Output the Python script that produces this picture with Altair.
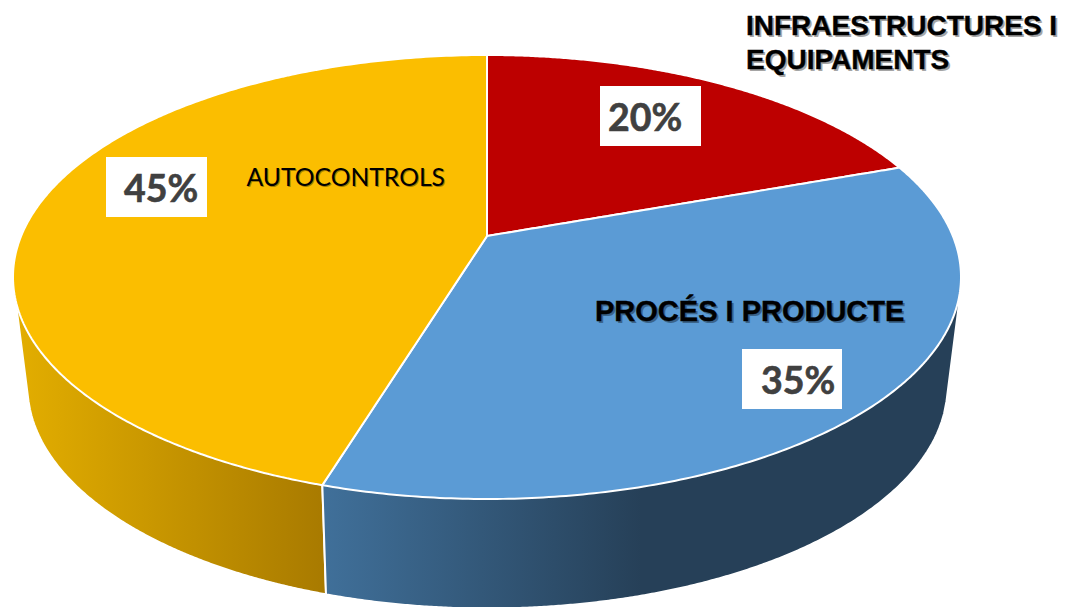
import numpy as np
import pandas as pd
import altair as alt

# values
categories = ["INFRAESTRUCTURES I EQUIPAMENTS", "PROCÉS I PRODUCTE", "AUTOCONTROLS"]
shares = [19.5, 35.2, 45.3]
pct_labels = ["20%", "35%", "45%"]
top_colors = ["#BD0000", "#5B9BD5", "#FBBE00"]

# projected disc: perspective of a tilted pie
HUB_X, HUB_Y = 487.0, 236.0
BACK_Y, FRONT_Y = 55.0, 499.0
C = -(FRONT_Y - HUB_Y - (HUB_Y - BACK_Y)) / (FRONT_Y - BACK_Y)
A = (FRONT_Y - HUB_Y) * (1 + C)
D = 474.0 * np.sqrt(1 - C ** 2)


def disc(theta_deg):
    t = np.radians(theta_deg)
    u, v = np.sin(t), -np.cos(t)
    w = 1 + C * v
    return HUB_X + D * u / w, HUB_Y + A * v / w


def wedge(a0, a1):
    th = np.linspace(a0, a1, 220)
    ax, ay = disc(th)
    px = np.r_[HUB_X, ax, HUB_X]
    py = np.r_[HUB_Y, ay, HUB_Y]
    rows = []
    xs = np.unique(np.round(px, 3))
    for x in xs:
        hits = []
        for i in range(len(px) - 1):
            x0, x1, y0, y1 = px[i], px[i + 1], py[i], py[i + 1]
            lo, hi = min(x0, x1), max(x0, x1)
            if lo - 1e-3 <= x <= hi + 1e-3:
                if abs(x1 - x0) < 1e-9:
                    hits += [y0, y1]
                else:
                    hits.append(y0 + (x - x0) / (x1 - x0) * (y1 - y0))
        rows.append({"x": x, "y": min(hits), "y2": max(hits)})
    return pd.DataFrame(rows)


cum = np.cumsum([0] + shares) / sum(shares) * 360
wedges = [wedge(cum[i], cum[i + 1]) for i in range(3)]

# side wall: rim of the lower disc
LOW_CX, LOW_CY, LOW_RX, LOW_RY = 487.5, 386.5, 460.0, 222.0
SEAM_TOP = disc(cum[2])
SEAM_BOTTOM_X = 326.0


def low_rim(x):
    return LOW_CY + LOW_RY * np.sqrt(np.clip(1 - ((x - LOW_CX) / LOW_RX) ** 2, 0, 1))


seam_low = float(low_rim(SEAM_BOTTOM_X))
UP = 285.0


def seam_y(x):
    return SEAM_TOP[1] + (x - SEAM_TOP[0]) / (SEAM_BOTTOM_X - SEAM_TOP[0]) * (seam_low - SEAM_TOP[1])


left_xs = np.r_[15.0, np.linspace(28.5, SEAM_TOP[0] - 0.05, 200)]
left_low = np.r_[296.0, low_rim(left_xs[1:])]
seam_xs = np.linspace(SEAM_TOP[0], SEAM_BOTTOM_X, 6)
side_yellow = pd.DataFrame({
    "x": np.r_[left_xs, seam_xs],
    "y": np.r_[left_low, low_rim(seam_xs)],
    "y2": np.r_[np.full(len(left_xs), UP), seam_y(seam_xs)],
})
right_xs = np.r_[np.linspace(SEAM_BOTTOM_X + 0.05, 946.5, 260), 960.0]
side_blue = pd.DataFrame({
    "x": np.r_[seam_xs, right_xs],
    "y": np.r_[seam_y(seam_xs), low_rim(right_xs[:-1]), 296.0],
    "y2": UP,
})

X = alt.X("x:Q", axis=None, scale=alt.Scale(domain=[8, 1068], nice=False, zero=False))
Y = alt.Y("y:Q", axis=None, scale=alt.Scale(domain=[607, 8], nice=False, zero=False))


def area(df, fill):
    return alt.Chart(df).mark_area(fill=fill, stroke="white", strokeWidth=2, interpolate="linear").encode(
        x=X, y=Y, y2="y2:Q"
    )


yellow_grad = alt.Gradient(gradient="linear", x1=0, x2=1, y1=0, y2=0, stops=[
    alt.GradientStop(offset=0, color="#E3AE00"),
    alt.GradientStop(offset=1, color="#A87A00"),
])
blue_grad = alt.Gradient(gradient="linear", x1=0, x2=1, y1=0, y2=0, stops=[
    alt.GradientStop(offset=0, color="#40709A"),
    alt.GradientStop(offset=0.5, color="#264058"),
    alt.GradientStop(offset=1, color="#264058"),
])

boxes = pd.DataFrame({
    "x": [600, 742, 106], "x2": [701, 842, 207],
    "y": [146, 409, 217], "y2": [86, 349, 157],
})
rect = alt.Chart(boxes).mark_rect(fill="white").encode(x=X, x2="x2:Q", y=Y, y2="y2:Q")


def text_layer(rows, font, size, weight, color, dx=0, dy=0, opacity=1.0, stroke=0.0):
    return alt.Chart(pd.DataFrame(rows)).mark_text(
        align="left", baseline="alphabetic", font=font, fontSize=size, fontWeight=weight,
        color=color, stroke=color, strokeWidth=stroke, dx=dx, dy=dy, opacity=opacity
    ).encode(x=X, y=Y, text="t:N")


pct_rows = [
    {"x": 608, "y": 131, "t": pct_labels[0]},
    {"x": 761, "y": 394, "t": pct_labels[1]},
    {"x": 124, "y": 202, "t": pct_labels[2]},
]
infra_rows = [
    {"x": 746, "y": 35, "t": "INFRAESTRUCTURES I"},
    {"x": 746, "y": 69, "t": "EQUIPAMENTS"},
]
proces_rows = [{"x": 595, "y": 321, "t": categories[1]}]
auto_rows = [{"x": 246.5, "y": 186, "t": categories[2]}]

chart = alt.layer(
    area(side_yellow, yellow_grad),
    area(side_blue, blue_grad),
    area(wedges[0], top_colors[0]),
    area(wedges[1], top_colors[1]),
    area(wedges[2], top_colors[2]),
    rect,
    text_layer(pct_rows, "Lato", 37.5, "bold", "#404040", stroke=0.6),
    text_layer(infra_rows, "Liberation Sans", 28, "bold", "#000000", dx=2, dy=2, opacity=0.35),
    text_layer(infra_rows, "Liberation Sans", 28, "bold", "#000000", stroke=0.4),
    text_layer(proces_rows, "Liberation Sans", 29, "bold", "#000000", dx=2, dy=2, opacity=0.35),
    text_layer(proces_rows, "Liberation Sans", 29, "bold", "#000000", stroke=0.4),
    text_layer(auto_rows, "Lato", 24.7, "normal", "#000000", dx=1, dy=1, opacity=0.35),
    text_layer(auto_rows, "Lato", 24.7, "normal", "#000000"),
).properties(
    width=1060, height=599, padding=0, autosize=alt.AutoSizeParams(type="none")
).configure_view(stroke=None)

chart.save("out.html", embed_options={"renderer": "svg", "actions": False})
